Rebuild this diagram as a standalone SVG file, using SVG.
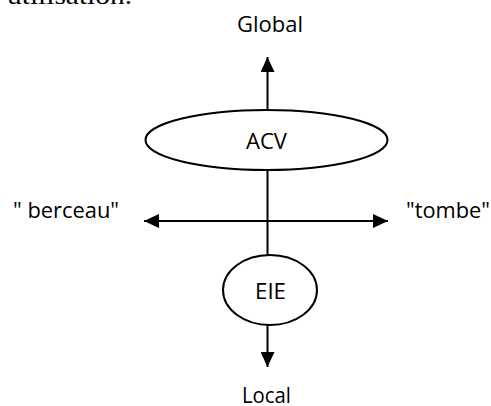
<svg xmlns="http://www.w3.org/2000/svg" width="491" height="406" viewBox="0 0 491 406">
<defs>
<style>
.lbl{font-family:"Open Sans","Noto Sans","Liberation Sans",sans-serif;font-size:21px;fill:#000}
.node{fill:#fff;stroke:#000;stroke-width:2}
.ln{stroke:#000;stroke-width:2;fill:none}
</style>
<marker id="ah" viewBox="0 0 15 14" refX="15" refY="7" markerWidth="15" markerHeight="14" markerUnits="userSpaceOnUse" orient="auto">
<path d="M0,0 L15,7 L0,14 Z" fill="#000"/>
</marker>
</defs>
<rect width="491" height="406" fill="#fff"/>
<text x="7" y="4" font-family="'Liberation Serif',serif" font-size="26" textLength="125" lengthAdjust="spacingAndGlyphs">utilisation.</text>
<g id="connectors">
<line class="ln" x1="267.5" y1="140" x2="267.5" y2="57" marker-end="url(#ah)"/>
<line class="ln" x1="267.5" y1="140" x2="267.5" y2="290"/>
<line class="ln" x1="267.5" y1="290" x2="267.5" y2="367" marker-end="url(#ah)"/>
<line class="ln" x1="267.5" y1="221" x2="144" y2="221" marker-end="url(#ah)"/>
<line class="ln" x1="267.5" y1="221" x2="388" y2="221" marker-end="url(#ah)"/>
</g>
<g id="acv">
<ellipse class="node" cx="266.5" cy="140" rx="121" ry="30"/>
<text class="lbl" x="266.5" y="149" text-anchor="middle" textLength="41" lengthAdjust="spacingAndGlyphs">ACV</text>
</g>
<g id="eie">
<ellipse class="node" cx="270" cy="290" rx="47" ry="35"/>
<text class="lbl" x="270.5" y="299" text-anchor="middle" textLength="31" lengthAdjust="spacingAndGlyphs">EIE</text>
</g>
<g id="global"><text class="lbl" x="270" y="32" text-anchor="middle" textLength="66" lengthAdjust="spacingAndGlyphs">Global</text></g>
<g id="local"><text class="lbl" x="266.5" y="403" text-anchor="middle" textLength="49" lengthAdjust="spacingAndGlyphs">Local</text></g>
<g id="berceau"><text class="lbl" x="13" y="218" textLength="106" lengthAdjust="spacingAndGlyphs">" berceau"</text></g>
<g id="tombe"><text class="lbl" x="406" y="218" textLength="84" lengthAdjust="spacingAndGlyphs">"tombe"</text></g>
</svg>
